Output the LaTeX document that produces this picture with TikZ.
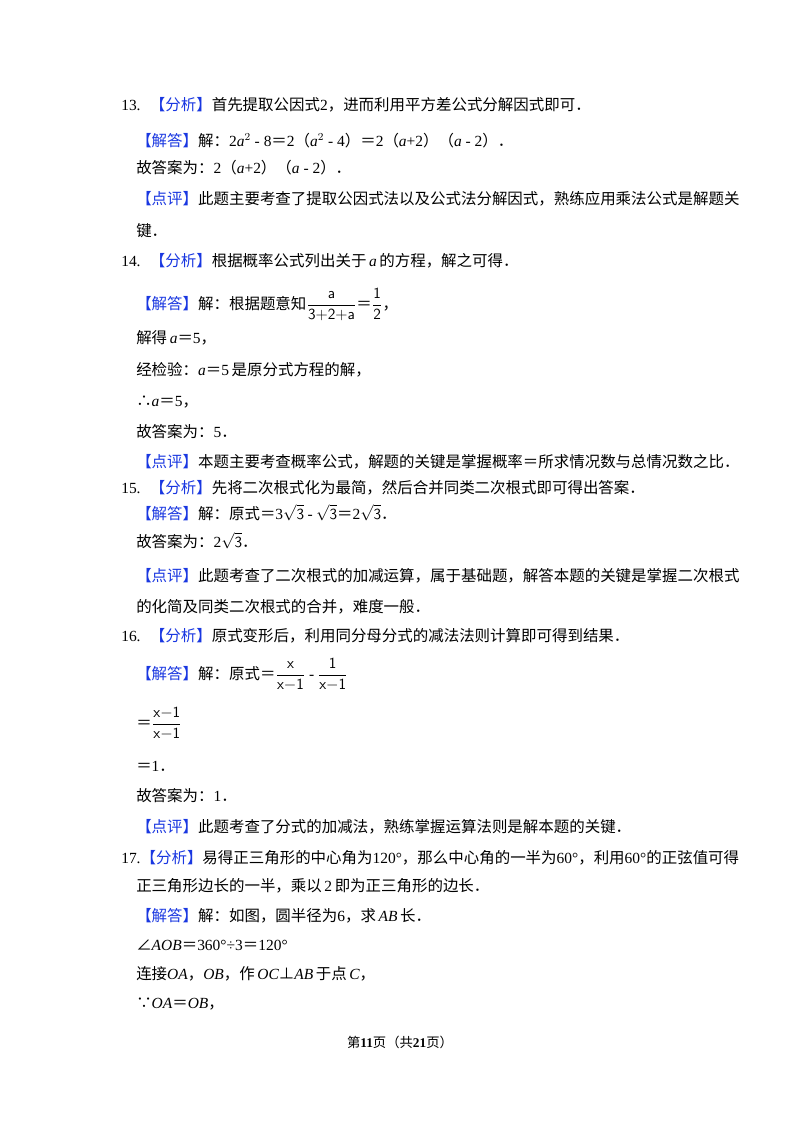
\documentclass[tikz,border=0pt]{standalone}
\usepackage{fontspec}
\setmainfont{Noto Sans CJK SC}
\newfontfamily\lat{Liberation Serif}
\definecolor{lblue}{RGB}{25,55,225}
\newcommand\lb[1]{\textcolor{lblue}{【#1】}}
\newcommand\fs{\fontsize{11.6pt}{14pt}\selectfont}
\newcommand\va{{\lat\itshape a}}
\newcommand\vx[1]{{\lat\itshape #1}}
\newcommand\num[1]{{\lat #1.}\hspace{7pt}}
\begin{document}
\begin{tikzpicture}[x=0.75pt,y=-0.75pt,txt/.style={anchor=base west,inner sep=0pt,font=\fs}]
\useasboundingbox (0,0) rectangle (800,1132);
\fill[white] (0,0) rectangle (800,1132);
\node[txt] (a1) at (121,110) {\num{13}\lb{分析}首先提取公因式{\lat 2}，进而利用平方差公式分解因式即可．};
\node[txt] (a2) at (136,146) {\lb{解答}解：{\lat 2\va$^2$ - 8}＝{\lat 2}（\va$^2${\lat\ - 4}）＝{\lat 2}（\va{\lat +2}）（\va{\lat\ - 2}）．};
\node[txt] (a3) at (136,173) {故答案为：{\lat 2}（\va{\lat +2}）（\va{\lat\ - 2}）．};
\node[txt] (a4) at (136,204) {\lb{点评}此题主要考查了提取公因式法以及公式法分解因式，熟练应用乘法公式是解题关};
\node[txt] (a5) at (136,236) {键．};
\node[txt] (b1) at (121,266) {\num{14}\lb{分析}根据概率公式列出关于\,\va\,的方程，解之可得．};
\node[txt] (b2) at (136,309) {\lb{解答}解：根据题意知$\displaystyle\frac{\mathsf{a}}{\mathsf{3{+}2{+}a}}$＝$\displaystyle\frac{\mathsf{1}}{\mathsf{2}}$，};
\node[txt] (b3) at (136,343) {解得\,\va＝{\lat 5}，};
\node[txt] (b4) at (136,375) {经检验：\va＝{\lat 5}\,是原分式方程的解，};
\node[txt] (b5) at (136,406) {∴\va＝{\lat 5}，};
\node[txt] (b6) at (136,437) {故答案为：{\lat 5}．};
\node[txt] (b7) at (136,467) {\lb{点评}本题主要考查概率公式，解题的关键是掌握概率＝所求情况数与总情况数之比．};
\node[txt] (c1) at (121,493) {\num{15}\lb{分析}先将二次根式化为最简，然后合并同类二次根式即可得出答案．};
\node[txt] (c2) at (136,519) {\lb{解答}解：原式＝{\lat 3}$\sqrt{\mathsf{3}}$ {\lat -} $\sqrt{\mathsf{3}}$＝{\lat 2}$\sqrt{\mathsf{3}}$．};
\node[txt] (c3) at (136,547) {故答案为：{\lat 2}$\sqrt{\mathsf{3}}$．};
\node[txt] (c4) at (136,581) {\lb{点评}此题考查了二次根式的加减运算，属于基础题，解答本题的关键是掌握二次根式};
\node[txt] (c5) at (136,612) {的化简及同类二次根式的合并，难度一般．};
\node[txt] (d1) at (121,641) {\num{16}\lb{分析}原式变形后，利用同分母分式的减法法则计算即可得到结果．};
\node[txt] (d2) at (136,679) {\lb{解答}解：原式＝$\displaystyle\frac{\mathsf{x}}{\mathsf{x{-}1}}$ {\lat -} $\displaystyle\frac{\mathsf{1}}{\mathsf{x{-}1}}$};
\node[txt] (d3) at (136,728) {＝$\displaystyle\frac{\mathsf{x{-}1}}{\mathsf{x{-}1}}$};
\node[txt] (d4) at (136,771) {＝{\lat 1}．};
\node[txt] (d5) at (136,801) {故答案为：{\lat 1}．};
\node[txt] (d6) at (136,832) {\lb{点评}此题考查了分式的加减法，熟练掌握运算法则是解本题的关键．};
\node[txt] (e1) at (121,863) {{\lat 17.}\lb{分析}易得正三角形的中心角为{\lat 120°}，那么中心角的一半为{\lat 60°}，利用{\lat 60°}的正弦值可得};
\node[txt] (e2) at (136,891) {正三角形边长的一半，乘以\,{\lat 2}\,即为正三角形的边长．};
\node[txt] (e3) at (136,921) {\lb{解答}解：如图，圆半径为{\lat 6}，求\,\vx{AB}\,长．};
\node[txt] (e4) at (136,950) {∠\vx{AOB}＝{\lat 360°÷3}＝{\lat 120°}};
\node[txt] (e5) at (136,979) {连接\vx{OA}，\vx{OB}，作\,\vx{OC}⊥\vx{AB}\,于点\,\vx{C}，};
\node[txt] (e6) at (136,1008) {∵\vx{OA}＝\vx{OB}，};
\node[anchor=base,inner sep=0pt,font=\fontsize{10pt}{12pt}\selectfont] (f) at (400,1047) {第{\lat\bfseries 11}页（共{\lat\bfseries 21}页）};
\end{tikzpicture}
\end{document}
